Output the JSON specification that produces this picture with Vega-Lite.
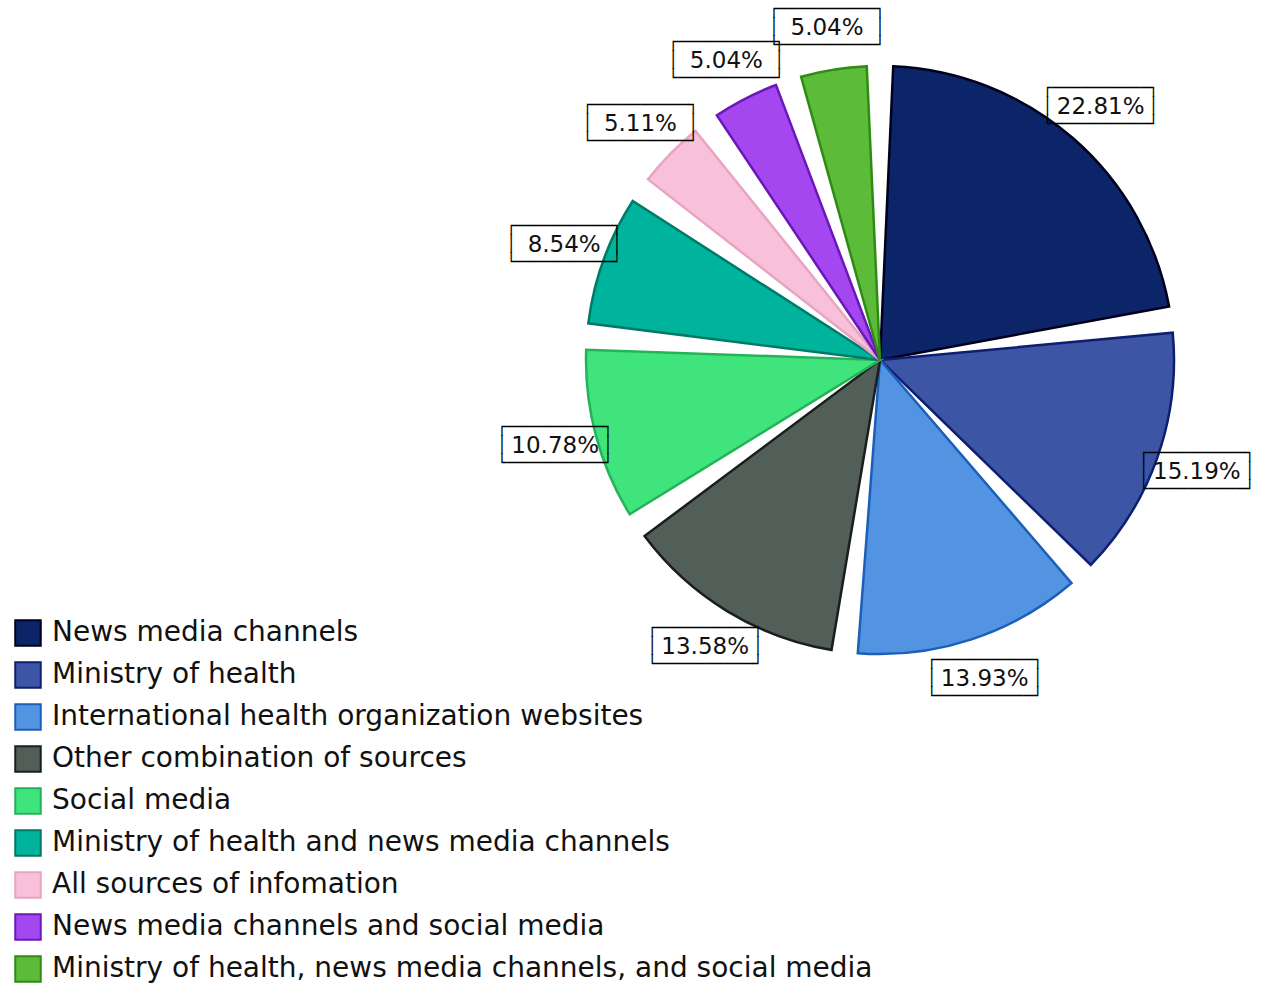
{
  "$schema": "https://vega.github.io/schema/vega-lite/v6.json",
  "width": 600,
  "height": 600,
  "autosize": {"type": "none"},
  "padding": {"left": 580, "top": 60, "right": 92, "bottom": 328},
  "background": "white",
  "data": {
    "values": [
      {"rank": 1, "source": "News media channels", "share": 0.2281},
      {"rank": 2, "source": "Ministry of health", "share": 0.1519},
      {"rank": 3, "source": "International health organization websites", "share": 0.1393},
      {"rank": 4, "source": "Other combination of sources", "share": 0.1358},
      {"rank": 5, "source": "Social media", "share": 0.1078},
      {"rank": 6, "source": "Ministry of health and news media channels", "share": 0.0854},
      {"rank": 7, "source": "All sources of infomation", "share": 0.0511},
      {"rank": 8, "source": "News media channels and social media", "share": 0.0504},
      {"rank": 9, "source": "Ministry of health, news media channels, and social media", "share": 0.0504}
    ]
  },
  "encoding": {
    "theta": {"field": "share", "type": "quantitative", "stack": true},
    "order": {"field": "rank", "type": "quantitative"}
  },
  "layer": [
    {
      "mark": {"type": "arc", "outerRadius": 294, "padAngle": 0.09, "strokeWidth": 2.5},
      "encoding": {
        "fill": {
          "field": "source", "type": "nominal",
          "scale": {
            "domain": ["News media channels", "Ministry of health", "International health organization websites", "Other combination of sources", "Social media", "Ministry of health and news media channels", "All sources of infomation", "News media channels and social media", "Ministry of health, news media channels, and social media"],
            "range": ["#0c2468", "#3c55a4", "#5294e2", "#525e58", "#40e47c", "#00b39c", "#f9c0da", "#a547f0", "#5cbb38"]
          },
          "legend": {"title": null}
        },
        "stroke": {
          "field": "source", "type": "nominal",
          "scale": {
            "domain": ["News media channels", "Ministry of health", "International health organization websites", "Other combination of sources", "Social media", "Ministry of health and news media channels", "All sources of infomation", "News media channels and social media", "Ministry of health, news media channels, and social media"],
            "range": ["#00001c", "#0e1f70", "#1c5fb8", "#1a1f1d", "#25b35a", "#007a68", "#e7a5c4", "#6a18b8", "#2e8c14"]
          },
          "legend": {"title": null}
        }
      }
    },
    {
      "mark": {"type": "text", "radius": 336, "dy": -19, "font": "DejaVu Sans Mono", "fontSize": 16, "fontWeight": "bold", "lineHeight": 18, "color": "#000000", "align": "center", "baseline": "middle"},
      "encoding": {
        "text": {"value": ["┌──────────┐", "│\u00a0\u00a0\u00a0\u00a0\u00a0\u00a0\u00a0\u00a0\u00a0\u00a0│", "└──────────┘"]}
      }
    },
    {
      "mark": {"type": "text", "radius": 336, "font": "DejaVu Sans", "fontSize": 23, "color": "#111111", "align": "center", "baseline": "middle"},
      "encoding": {
        "text": {"field": "share", "type": "quantitative", "format": ".2%"}
      }
    }
  ],
  "config": {
    "view": {"stroke": null},
    "legend": {
      "orient": "none",
      "legendX": -566,
      "legendY": 559,
      "symbolType": "square",
      "symbolSize": 650,
      "symbolStrokeWidth": 2,
      "labelFont": "DejaVu Sans",
      "labelFontSize": 28,
      "labelColor": "#111111",
      "labelLimit": 1200,
      "rowPadding": 8,
      "labelOffset": 10,
      "padding": 0,
      "symbolOffset": 0
    }
  }
}
